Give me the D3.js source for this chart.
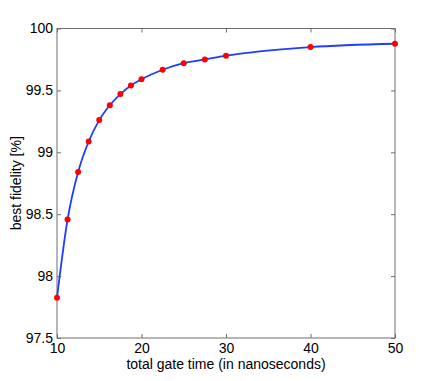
<!DOCTYPE html>
<html><head><meta charset="utf-8">
<script src="https://cdn.jsdelivr.net/npm/d3@7"></script>
<style>body{margin:0;background:#fff}svg{display:block}text{font-family:"Liberation Sans",Arial,sans-serif}</style>
</head><body><svg id="c" width="436" height="381"></svg>
<script>
const gateTimes = [10, 11.25, 12.5, 13.75, 15, 16.25, 17.5, 18.75, 20, 22.5, 25, 27.5, 30, 40, 50];
const fidelity = [97.826, 98.457, 98.84, 99.087, 99.26, 99.38, 99.47, 99.54, 99.59, 99.667, 99.72, 99.75, 99.78, 99.85, 99.877];
const xTicks = [10, 20, 30, 40, 50];
const yTicks = [97.5, 98, 98.5, 99, 99.5, 100];
const xLabel = "total gate time (in nanoseconds)";
const yLabel = "best fidelity [%]";

const m = {l: 57, r: 395, t: 28.5, b: 338};
const svg = d3.select("#c");
const x = d3.scaleLinear().domain([10, 50]).range([m.l, m.r]);
const y = d3.scaleLinear().domain([97.5, 100]).range([m.b, m.t]);
const axisCol = "#6e6e6e";
const tl = 4;
const fs = "14px";

const g = svg.append("g");
g.append("rect").attr("x", m.l).attr("y", m.t).attr("width", m.r - m.l).attr("height", m.b - m.t)
  .attr("fill", "none").attr("stroke", axisCol).attr("stroke-width", 1);

const xb = g.append("g").attr("transform", `translate(0,${m.b})`)
  .call(d3.axisBottom(x).tickValues(xTicks).tickSizeInner(-tl).tickSizeOuter(0).tickPadding(5).tickFormat(d3.format("d")));
const xt = g.append("g").attr("transform", `translate(0,${m.t})`)
  .call(d3.axisTop(x).tickValues(xTicks).tickSizeInner(-tl).tickSizeOuter(0).tickFormat(""));
const yl = g.append("g").attr("transform", `translate(${m.l},0)`)
  .call(d3.axisLeft(y).tickValues(yTicks).tickSizeInner(-tl).tickSizeOuter(0).tickPadding(4).tickFormat(d => d3.format("")(d)));
const yr = g.append("g").attr("transform", `translate(${m.r},0)`)
  .call(d3.axisRight(y).tickValues(yTicks).tickSizeInner(-tl).tickSizeOuter(0).tickFormat(""));
[xb, xt, yl, yr].forEach(a => {
  a.select(".domain").remove();
  a.selectAll("line").attr("stroke", axisCol);
  a.selectAll("text").attr("fill", "#000").style("font-size", fs).style("font-family", '"Liberation Sans",Arial,sans-serif');
});

const line = d3.line().x((d, i) => x(gateTimes[i])).y(d => y(d)).curve(d3.curveMonotoneX);
g.append("path").datum(fidelity).attr("d", line).attr("fill", "none")
  .attr("stroke", "#1f3dff").attr("stroke-width", 1.8);
g.selectAll("circle.pt").data(fidelity).enter().append("circle")
  .attr("cx", (d, i) => x(gateTimes[i])).attr("cy", d => y(d)).attr("r", 3)
  .attr("fill", "#ff0000");

svg.append("text").attr("x", (m.l + m.r) / 2).attr("y", 369).attr("text-anchor", "middle")
  .style("font-size", fs).text(xLabel);
svg.append("text").attr("transform", `translate(21,${(m.t + m.b) / 2}) rotate(-90)`).attr("text-anchor", "middle")
  .style("font-size", fs).text(yLabel);
</script></body></html>
